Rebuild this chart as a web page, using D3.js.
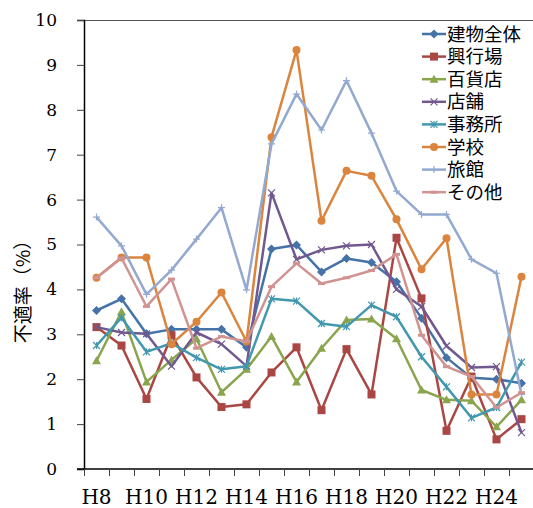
<!DOCTYPE html>
<html>
<head>
<meta charset="utf-8">
<script src="https://cdn.jsdelivr.net/npm/d3@7"></script>
<style>
  html, body { margin: 0; padding: 0; background: #fff; }
  svg { display: block; }
</style>
</head>
<body>
<svg id="chart" width="533" height="508"></svg>
<script>
// Fiscal years (Heisei) on the category axis
const years = ["H8","H9","H10","H11","H12","H13","H14","H15","H16","H17","H18","H19","H20","H21","H22","H23","H24","H25"];
const yTicks = [0,1,2,3,4,5,6,7,8,9,10];

// Non-compliance rate (%) by building use
const seriesNames = ["建物全体","興行場","百貨店","店舗","事務所","学校","旅館","その他"];
const zentai   = [3.53,3.79,3.01,3.11,3.11,3.11,2.71,4.90,4.99,4.39,4.69,4.60,4.17,3.36,2.48,2.03,2.00,1.91];
const kogyo    = [3.16,2.75,1.56,2.98,2.04,1.38,1.44,2.15,2.71,1.31,2.67,1.66,5.15,3.80,0.85,2.06,0.66,1.11];
const hyakka   = [2.41,3.50,1.94,2.43,2.90,1.71,2.22,2.95,1.94,2.69,3.32,3.34,2.90,1.76,1.54,1.52,0.94,1.54];
const tenpo    = [3.16,3.04,3.01,2.29,3.04,2.78,2.29,6.15,4.67,4.88,4.97,5.00,4.00,3.62,2.74,2.26,2.28,0.81];
const jimusho  = [2.75,3.37,2.61,2.80,2.48,2.22,2.29,3.79,3.74,3.24,3.17,3.65,3.39,2.50,1.83,1.14,1.37,2.38];
const gakko    = [4.26,4.71,4.71,2.78,3.28,3.93,2.84,7.39,9.33,5.53,6.64,6.53,5.56,4.45,5.14,1.66,1.66,4.28];
const ryokan   = [5.61,4.97,3.89,4.43,5.12,5.82,3.99,7.24,8.35,7.55,8.65,7.48,6.19,5.67,5.67,4.67,4.36,1.66];
const sonota   = [4.26,4.70,3.62,4.23,2.69,2.95,2.84,4.06,4.58,4.13,4.26,4.42,4.78,2.98,2.28,2.06,1.37,1.70];

const seriesValues = [zentai, kogyo, hyakka, tenpo, jimusho, gakko, ryokan, sonota];
const colors  = ["#4572A7","#AA4643","#89A54E","#71588F","#4198AF","#DB843D","#93A9CF","#D19392"];
const markers = ["diamond","square","triangle","x","asterisk","circle","plus","dash"];

const svg = d3.select("#chart");
const plotLeft = 84, plotTop = 20, plotBottom = 469;
const x = d3.scaleBand().domain(years).range([plotLeft, plotLeft + 25 * years.length]);
const y = d3.scaleLinear().domain([0, 10]).range([plotBottom, plotTop]);

// top border of plot area
svg.append("line")
  .attr("x1", plotLeft - 7).attr("x2", 533)
  .attr("y1", plotTop + 0.5).attr("y2", plotTop + 0.5)
  .attr("stroke", "#555").attr("stroke-width", 1);

// y axis
const yAxis = svg.append("g")
  .attr("transform", `translate(${plotLeft},0)`)
  .call(d3.axisLeft(y).tickValues(yTicks).tickSize(7).tickPadding(20).tickFormat(d3.format("d")));
yAxis.select(".domain").attr("stroke", "#000").attr("stroke-width", 1.5);
yAxis.selectAll(".tick line").attr("stroke", "#444");
yAxis.selectAll(".tick text")
  .attr("font-family", "DejaVu Serif").attr("font-size", 17).attr("fill", "#000");

// x axis: ticks between categories, labels on every other year
const bounds = years.map(d => x(d));
const xAxis = svg.append("g").attr("transform", `translate(0,${plotBottom})`);
xAxis.append("line")
  .attr("x1", plotLeft - 7).attr("x2", 533).attr("y1", 0).attr("y2", 0)
  .attr("stroke", "#000").attr("stroke-width", 1.5);
xAxis.selectAll("line.tk").data(bounds).join("line").attr("class", "tk")
  .attr("x1", d => d + 0.5).attr("x2", d => d + 0.5).attr("y1", 0).attr("y2", 7)
  .attr("stroke", "#444");
xAxis.selectAll("text").data(years.filter((d, i) => i % 2 === 0)).join("text")
  .attr("x", d => x(d) + x.bandwidth() / 2)
  .attr("y", 35)
  .attr("text-anchor", "middle")
  .attr("font-family", "DejaVu Serif").attr("font-size", 20).attr("fill", "#000")
  .text(d => d);

// y axis title
svg.append("text")
  .attr("transform", "translate(30,287) rotate(-90)")
  .attr("text-anchor", "middle")
  .attr("font-family", "Noto Sans CJK JP").attr("font-size", 19).attr("fill", "#000")
  .text("不適率（%）");

function drawMarker(g, type, color, cx, cy, s) {
  const h = s / 2;
  switch (type) {
    case "diamond":
      g.append("path").attr("d", `M${cx},${cy-h-1}L${cx+h+1},${cy}L${cx},${cy+h+1}L${cx-h-1},${cy}Z`).attr("fill", color);
      break;
    case "square":
      g.append("rect").attr("x", cx - h - 0.5).attr("y", cy - h - 0.5).attr("width", s + 1).attr("height", s + 1).attr("fill", color);
      break;
    case "triangle":
      g.append("path").attr("d", `M${cx},${cy-h-1}L${cx+h+1},${cy+h}L${cx-h-1},${cy+h}Z`).attr("fill", color);
      break;
    case "circle":
      g.append("circle").attr("cx", cx).attr("cy", cy).attr("r", h + 0.5).attr("fill", color);
      break;
    case "x":
      g.append("path").attr("d", `M${cx-h},${cy-h}L${cx+h},${cy+h}M${cx-h},${cy+h}L${cx+h},${cy-h}`).attr("stroke", color).attr("stroke-width", 1.2);
      break;
    case "asterisk":
      g.append("path").attr("d", `M${cx-h},${cy-h}L${cx+h},${cy+h}M${cx-h},${cy+h}L${cx+h},${cy-h}M${cx},${cy-h}L${cx},${cy+h}`).attr("stroke", color).attr("stroke-width", 1.2);
      break;
    case "plus":
      g.append("path").attr("d", `M${cx-h},${cy}L${cx+h},${cy}M${cx},${cy-h}L${cx},${cy+h}`).attr("stroke", color).attr("stroke-width", 1.2);
      break;
    case "dash":
      g.append("path").attr("d", `M${cx-h},${cy}L${cx+h},${cy}`).attr("stroke", color).attr("stroke-width", 3);
      break;
  }
}

const line = d3.line().x((d, i) => x(years[i]) + x.bandwidth() / 2).y(d => y(d));

seriesValues.forEach((vals, si) => {
  const g = svg.append("g");
  g.append("path").datum(vals).attr("d", line)
    .attr("fill", "none").attr("stroke", colors[si]).attr("stroke-width", 2.5)
    .attr("stroke-linejoin", "round");
  vals.forEach((v, i) => drawMarker(g, markers[si], colors[si], x(years[i]) + x.bandwidth() / 2, y(v), 7));
});

// legend
const legend = svg.append("g");
seriesNames.forEach((name, i) => {
  const ly = 34 + i * 22.6;
  legend.append("line").attr("x1", 422).attr("x2", 446).attr("y1", ly).attr("y2", ly)
    .attr("stroke", colors[i]).attr("stroke-width", 2.5);
  drawMarker(legend, markers[i], colors[i], 434, ly, 7);
  legend.append("text").attr("x", 447).attr("y", ly).attr("dy", "0.36em")
    .attr("font-family", "Noto Sans CJK JP").attr("font-size", 18.5).attr("fill", "#000")
    .text(name);
});
</script>
</body>
</html>
